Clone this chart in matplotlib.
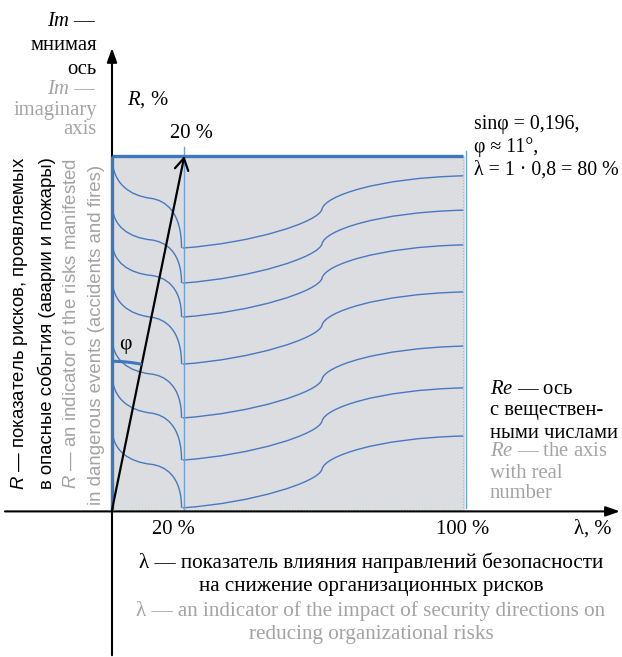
import matplotlib
matplotlib.use('Agg')
import math
import matplotlib.pyplot as plt
from matplotlib.path import Path
from matplotlib.patches import PathPatch, Rectangle, Arc, FancyArrowPatch

plt.rcParams['font.family'] = ['Liberation Serif', 'DejaVu Serif']
plt.rcParams['mathtext.fontset'] = 'custom'
plt.rcParams['mathtext.it'] = 'Liberation Serif:italic'
plt.rcParams['mathtext.rm'] = 'Liberation Serif'
plt.rcParams['mathtext.sf'] = 'Liberation Sans:italic'

# ---------------- data (λ, R in %) ----------------
left_start_R = [100.0, 86.7, 76.3, 65.8, 49.0, 38.7, 23.4]   # left curves at λ = 0
right_start_R = [74.0, 64.1, 54.5, 41.2, 26.0, 14.1, 0.6]    # curves at λ = 20
right_end_R = [94.4, 84.7, 74.9, 61.6, 46.3, 34.5, 20.9]     # curves at λ = 100
lambda_split = 20.0
lambda_kink = 59.5
lambda_max = 100.0
R_max = 100.0
vector_end = (20.5, 100.0)
phi_radius = 42.0
x_tick_labels = ['20 %', '100 %']

BLUE = '#4679c0'
BLUE_THICK = '#3d77bd'
BLUE_LIGHT = '#6ea3d8'
GRAY_TXT = '#a3a3a3'
FILL = '#dcdde0'

W, H = 622, 657
fig = plt.figure(figsize=(W / 100, H / 100), dpi=100)
ax = fig.add_axes([0, 0, 1, 1])
XMIN, XMAX = -31.73, 144.48
YMIN, YMAX = -41.53, 144.07
ax.set_xlim(XMIN, XMAX)
ax.set_ylim(YMIN, YMAX)
ax.axis('off')

# ---------------- region ----------------
ax.add_patch(Rectangle((0, 0), lambda_max, R_max, facecolor=FILL, edgecolor='none', zorder=1))
ax.add_patch(Rectangle((0, 0), lambda_max - 0.5, R_max, facecolor='none', edgecolor='#8fd18f',
                       lw=0.8, ls=':', zorder=2))

codes = [Path.MOVETO] + [Path.CURVE4] * 6
for R0, R1, R2 in zip(left_start_R, right_start_R, right_end_R):
    # left part: from λ = 0 down to λ = 20
    D = R0 - R1
    lx = lambda_split - 0.3
    verts = [(0, R0), (0, R0 - 0.3 * D), (5, R0 - 0.43 * D), (11, R0 - 0.46 * D),
             (15, R0 - 0.48 * D), (lx, R0 - 0.6 * D), (lx, R1)]
    ax.add_patch(PathPatch(Path(verts, codes), facecolor='none', edgecolor=BLUE, lw=1.0, zorder=3))
    # right part: from λ = 20 up to λ = 100
    E = R2 - R1
    k = lambda_kink
    verts = [(lambda_split, R1), (40, R1 + 0.07 * E), (k - 0.8, R1 + 0.36 * E), (k, R1 + 0.54 * E),
             (k + 0.8, R1 + 0.72 * E), (75, R1 + 0.97 * E), (lambda_max - 0.5, R2)]
    ax.add_patch(PathPatch(Path(verts, codes), facecolor='none', edgecolor=BLUE, lw=1.0, zorder=3))

# vertical line at λ = 20 and right edge
ax.plot([lambda_split + 0.5, lambda_split + 0.5], [0, R_max + 2.5], color=BLUE_LIGHT, lw=1.0, zorder=3)
ax.plot([lambda_max + 0.3, lambda_max + 0.3], [0.5, R_max + 1.5], color=BLUE_LIGHT, lw=1.0, zorder=3)

# axes arrows
ax.add_patch(FancyArrowPatch((0, YMIN + 0.5), (0, 130.5), arrowstyle='-|>,head_length=0.7,head_width=0.25',
                             mutation_scale=12, lw=1.5, color='black', shrinkA=0, shrinkB=0, zorder=4))
ax.add_patch(FancyArrowPatch((XMIN + 1.4, -0.4), (XMAX - 0.6, -0.4), arrowstyle='-|>,head_length=0.7,head_width=0.25',
                             mutation_scale=12, lw=1.5, color='black', shrinkA=0, shrinkB=0, zorder=4))

# thick blue borders (top and left)
ax.plot([0, lambda_max - 0.5], [R_max, R_max], color=BLUE_THICK, lw=2.4, zorder=5, solid_capstyle='butt')
ax.plot([0, 0], [0, R_max], color=BLUE_THICK, lw=2.4, zorder=5, solid_capstyle='butt')

# vector
ax.add_patch(FancyArrowPatch((0, 0), vector_end, arrowstyle='->,head_length=0.6,head_width=0.35',
                             mutation_scale=14, lw=1.6, color='black', shrinkA=0, shrinkB=0, zorder=6))

# phi arc (circle in pixel space)
px_l = W / (XMAX - XMIN)
px_r = H / (YMAX - YMIN)
rx = phi_radius * px_r / px_l
ang = math.degrees(math.atan2(vector_end[1] * px_r, vector_end[0] * px_l))
ax.add_patch(Arc((0, 0), 2 * rx, 2 * phi_radius, theta1=ang, theta2=90, color=BLUE_THICK, lw=2.2, zorder=6))


# ---------------- texts ----------------
def T(x, y, s, **kw):
    fig.text(x / W, 1 - y / H, s, **kw)


side = 14.9
# Im block
for yy, s, c in [(22, '$Im$ —', 'black'), (46, 'мнимая', 'black'), (69, 'ось', 'black'),
                 (90, '$Im$ —', GRAY_TXT), (110, 'imaginary', GRAY_TXT), (130, 'axis', GRAY_TXT)]:
    T(97, yy, s, ha='right', va='center', fontsize=side, color=c)
T(127, 100, '$R$, %', ha='left', va='center', fontsize=side)
T(191, 134, x_tick_labels[0], ha='center', va='center', fontsize=side)

# right top
for yy, s in [(124, 'sinφ = 0,196,'), (147, 'φ ≈ 11°,'), (170, 'λ = 1 · 0,8 = 80 %')]:
    T(474, yy, s, ha='left', va='center', fontsize=14.3)

# Re block
for yy, s, c in [(389, '$Re$ — ось', 'black'), (411, 'с веществен-', 'black'), (433, 'ными числами', 'black'),
                 (452, '$Re$ — the axis', GRAY_TXT), (473, 'with real', GRAY_TXT), (493, 'number', GRAY_TXT)]:
    T(490, yy, s, ha='left', va='center', fontsize=side, color=c)

# x labels
T(173, 529, x_tick_labels[0], ha='center', va='center', fontsize=side)
T(463, 529, x_tick_labels[1], ha='center', va='center', fontsize=side)
T(593, 529, 'λ, %', ha='center', va='center', fontsize=side)

# phi
T(125, 344, 'φ', ha='center', va='center', fontsize=15.5)

# bottom description
bot = 15.2
for yy, s, c in [(563, 'λ — показатель влияния направлений безопасности', 'black'),
                 (587, 'на снижение организационных рисков', 'black'),
                 (611, 'λ — an indicator of the impact of security directions on', GRAY_TXT),
                 (635, 'reducing organizational risks', GRAY_TXT)]:
    T(371, yy, s, ha='center', va='center', fontsize=bot, color=c)

# rotated left description
rot = 13.4
for xx, yy, s, c in [(20, 323, r'$\mathsf{R}$ — показатель рисков, проявляемых', 'black'),
                     (47, 323, 'в опасные события (аварии и пожары)', 'black'),
                     (72, 323, r'$\mathsf{R}$ — an indicator of the risks manifested', GRAY_TXT),
                     (97, 335, 'in dangerous events (accidents and fires)', GRAY_TXT)]:
    T(xx, yy, s, ha='center', va='center', rotation=90, fontsize=rot, color=c,
      family=['Liberation Sans', 'DejaVu Sans'])

fig.savefig('out.png', dpi=100)
